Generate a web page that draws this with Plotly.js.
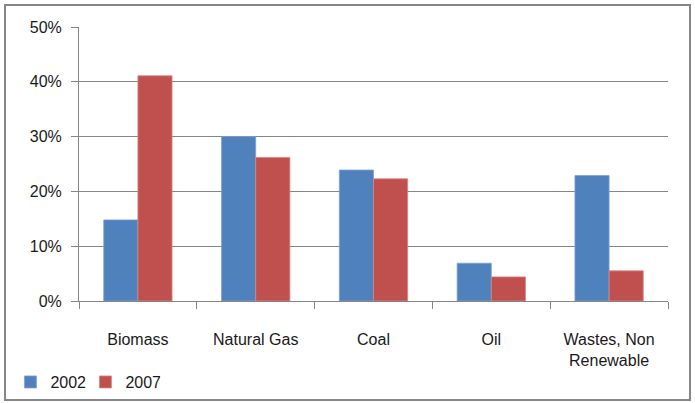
<!DOCTYPE html>
<html>
<head>
<meta charset="utf-8">
<script src="https://cdn.plot.ly/plotly-3.0.1.min.js"></script>
<style>
html,body{margin:0;padding:0;background:#fff;}
#chart{width:695px;height:403px;}
</style>
</head>
<body>
<div id="chart"></div>
<script>
const categories = ["Biomass", "Natural Gas", "Coal", "Oil", "Wastes, Non<br>Renewable"];
const values2002 = [0.148, 0.300, 0.239, 0.069, 0.229];
const values2007 = [0.411, 0.262, 0.223, 0.044, 0.055];
const yTickVals = [0, 0.1, 0.2, 0.3, 0.4, 0.5];
const yTickText = ["0%", "10%", "20%", "30%", "40%", "50%"];

const fontFam = "'Liberation Sans Narrow', 'Arial Narrow', 'Liberation Sans', sans-serif";

const data = [
  {type: "bar", name: "2002", x: categories, y: values2002,
   marker: {color: "#4F81BD", line: {color: "#7DA2D0", width: 0.8}}},
  {type: "bar", name: "2007", x: categories, y: values2007,
   marker: {color: "#C0504D", line: {color: "#D98583", width: 0.8}}}
];

const layout = {
  width: 695, height: 403,
  margin: {l: 79, r: 27, t: 27, b: 102},
  paper_bgcolor: "#fff", plot_bgcolor: "#fff",
  barmode: "group", bargap: 0.42, bargroupgap: 0,
  font: {family: fontFam, size: 16, color: "#1a1a1a"},
  showlegend: true,
  legend: {orientation: "h", xref: "container", yref: "container",
           x: 0.015, xanchor: "left", y: 0.052, yanchor: "middle",
           font: {family: fontFam, size: 16}, itemwidth: 30, traceorder: "normal",
           entrywidth: 30, entrywidthmode: "pixels",
           bgcolor: "rgba(0,0,0,0)"},
  xaxis: {type: "category", tickson: "boundaries", ticks: "outside", ticklen: 7,
          tickcolor: "#868686", showline: true, linecolor: "#868686", linewidth: 1,
          showgrid: false, automargin: false, ticklabelstandoff: 24, tickfont: {family: fontFam, size: 16}},
  yaxis: {range: [0, 0.5], tickvals: yTickVals, ticktext: yTickText,
          ticks: "outside", ticklen: 7, tickcolor: "#868686",
          showline: true, linecolor: "#868686", linewidth: 1, automargin: false,
          showgrid: true, gridcolor: "#868686", gridwidth: 1, zeroline: false,
          ticklabelstandoff: 6, tickfont: {family: fontFam, size: 16}},
  shapes: [{type: "rect", xref: "paper", yref: "paper",
            x0: -0.1256, x1: 1.0374, y0: -0.361, y1: 1.080,
            line: {color: "#868686", width: 2}, layer: "above"}]
};

Plotly.newPlot("chart", data, layout, {displayModeBar: false, staticPlot: true});
</script>
</body>
</html>
